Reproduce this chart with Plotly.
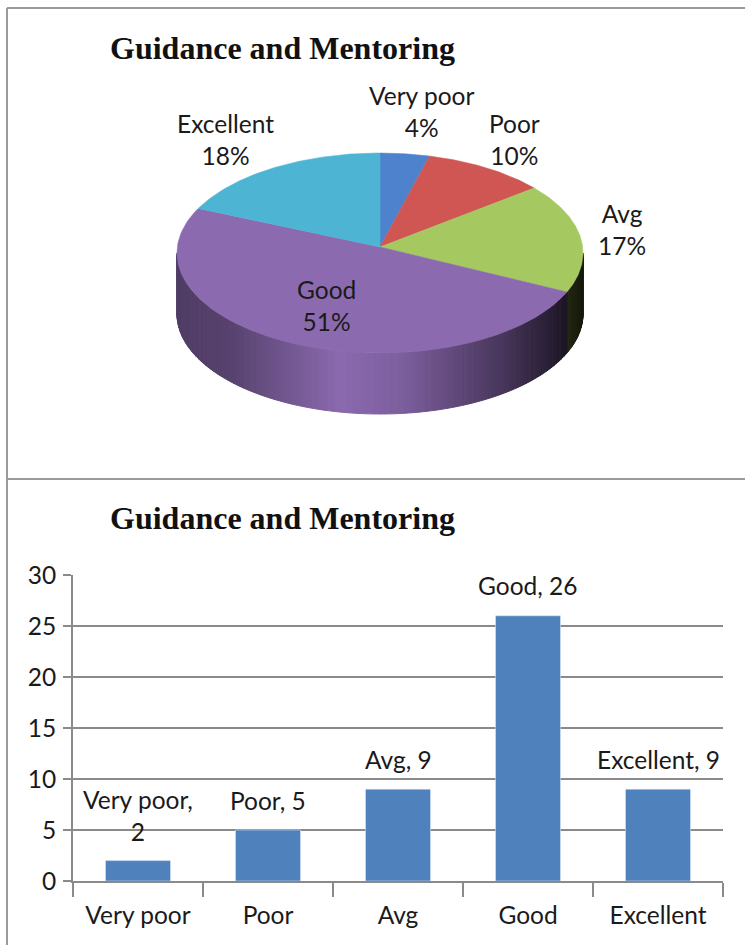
import numpy as np
import plotly.graph_objects as go

# --- data ---
categories = ["Very poor", "Poor", "Avg", "Good", "Excellent"]
counts = [2, 5, 9, 26, 9]
percent_labels = ["4%", "10%", "17%", "51%", "18%"]
title_text = "Guidance and Mentoring"
y_ticks = [0, 5, 10, 15, 20, 25, 30]

# --- style ---
slice_colors = [(78, 130, 204), (207, 86, 82), (166, 200, 96), (139, 106, 176), (78, 180, 212)]
BAR = "#4F81BD"
GREY = "#8A8A8A"
FONT = "Lato, 'Open Sans', sans-serif"
TEXT = "#1a1a1a"
CX, CY, APEX_Y, RX, RY, DEPTH = 380, 253, 247, 203, 100, 61
label_pos = [(421, 111), (514, 139), (622, 229), (326, 305), (225, 139)]
label_shift = [45, 30, 30, 30, 30]

fig = go.Figure()


def ex(a):
    return CX + RX * np.sin(np.radians(a))


def ey(a):
    return CY - RY * np.cos(np.radians(a))


def shade(a):
    n = np.sin(np.radians(a))
    return float(np.interp(n, [-1, -0.75, -0.2, 0.1, 0.6, 0.85, 1],
                           [0.58, 0.62, 1.0, 0.9, 0.52, 0.28, 0.12]))


bounds = np.concatenate([[0], np.cumsum(counts)]) / sum(counts) * 360

# side wall of the pie, one narrow strip per degree
for a in np.arange(90, 270, 1.0):
    mid = a + 0.5
    i = int(np.searchsorted(bounds, mid) - 1)
    f = shade(mid)
    c = "rgb({},{},{})".format(*[int(v * f) for v in slice_colors[i]])
    arc = np.array([a, a + 1.0])
    xs = list(ex(arc)) + list(ex(arc[::-1]))
    ys = list(ey(arc)) + list(ey(arc[::-1]) + DEPTH)
    fig.add_trace(go.Scatter(x=xs + xs[:1], y=ys + ys[:1], mode="lines", fill="toself",
                             fillcolor=c, line=dict(color=c, width=1),
                             hoverinfo="skip", showlegend=False))

# top face of the pie
for i, c in enumerate(slice_colors):
    arc = np.linspace(bounds[i], bounds[i + 1], 120)
    xs = [CX] + list(ex(arc)) + [CX]
    ys = [APEX_Y] + list(ey(arc)) + [APEX_Y]
    col = "rgb({},{},{})".format(*c)
    fig.add_trace(go.Scatter(x=xs, y=ys, mode="lines", fill="toself", fillcolor=col,
                             line=dict(color=col, width=0.5), hoverinfo="skip", showlegend=False))

# bar chart
fig.add_trace(go.Bar(x=categories, y=counts, xaxis="x2", yaxis="y2", marker_color=BAR,
                     showlegend=False))

ann = []
for name, pct, (lx, ly) in zip(categories, percent_labels, label_pos):
    ann.append(dict(x=lx, y=ly, xref="x", yref="y", text=f"{name}<br>{pct}", showarrow=False,
                    font=dict(family=FONT, size=24.5, color=TEXT), align="center"))
for n, (name, v, s) in enumerate(zip(categories, counts, label_shift)):
    label = f"{name},<br>{v}" if n == 0 else f"{name}, {v}"
    ann.append(dict(x=name, y=v, xref="x2", yref="y2", text=label, showarrow=False, yshift=s,
                    font=dict(family=FONT, size=24.5, color=TEXT), align="center", yanchor="middle"))
for ty in (48, 518):
    ann.append(dict(x=108, y=ty, xref="x", yref="y", xanchor="left", text=f"<b>{title_text}</b>",
                    showarrow=False, font=dict(family="Liberation Serif", size=32, color="#111111")))

frame = [(7, 8, 745, 8), (7, 8, 7, 945), (7, 479, 745, 479)]
shapes = [dict(type="line", xref="x", yref="y", x0=a, y0=b, x1=c, y1=d,
               line=dict(color="#9a9a9a", width=2)) for a, b, c, d in frame]

fig.update_layout(
    width=745, height=948, margin=dict(l=0, r=0, t=0, b=0), autosize=False,
    paper_bgcolor="white", plot_bgcolor="rgba(0,0,0,0)", bargap=0.5,
    annotations=ann, shapes=shapes,
    xaxis=dict(range=[0, 745], domain=[0, 1], visible=False, fixedrange=True, automargin=False),
    yaxis=dict(range=[948, 0], domain=[0, 1], visible=False, fixedrange=True, automargin=False),
    xaxis2=dict(domain=[73 / 745, 723 / 745], anchor="y2", type="category", automargin=False,
                categoryorder="array", categoryarray=categories, tickson="boundaries",
                ticks="outside", ticklen=14, tickwidth=2, tickcolor=GREY, showline=True,
                linecolor=GREY, linewidth=2, showgrid=False, zeroline=False,
                ticklabelstandoff=12,
                tickfont=dict(family=FONT, size=24.5, color=TEXT)),
    yaxis2=dict(domain=[67 / 948, 373 / 948], anchor="x2", range=[0, 30], tickvals=y_ticks,
                ticks="outside", ticklen=8, tickwidth=2, tickcolor=GREY, showline=True,
                linecolor=GREY, linewidth=2, gridcolor=GREY, gridwidth=2, zeroline=False,
                automargin=False, ticklabelstandoff=2,
                tickfont=dict(family=FONT, size=24.5, color=TEXT)),
)

fig.write_html("out.html", config={"displayModeBar": False},
               post_script="document.body.style.margin='0';document.body.style.overflow='hidden';")
